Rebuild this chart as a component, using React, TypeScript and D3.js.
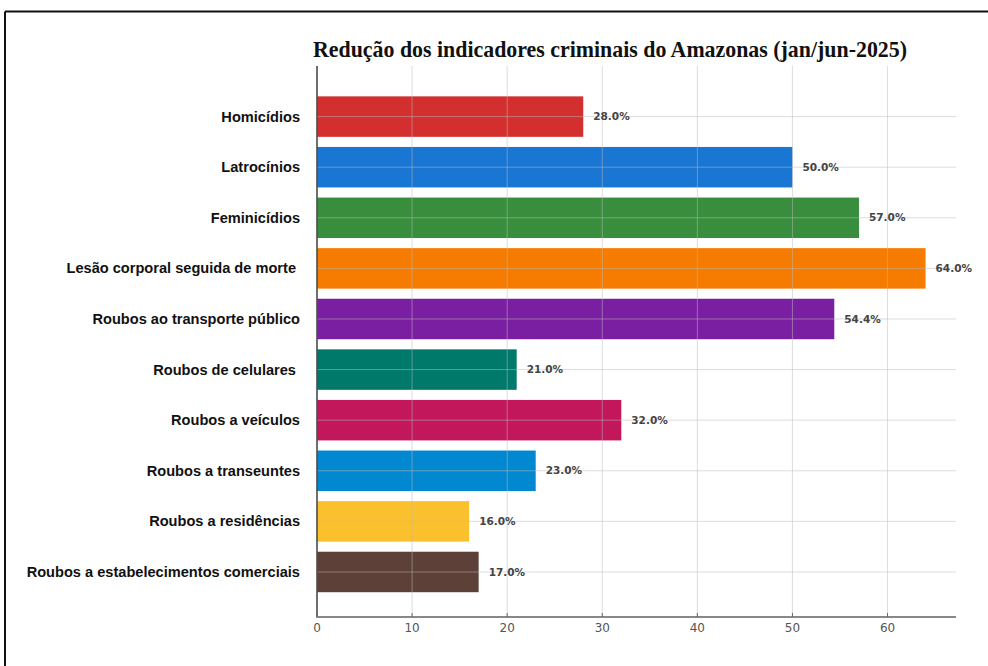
import React from "react";
import * as d3 from "d3";

const categories = [
  "Homicídios",
  "Latrocínios",
  "Feminicídios",
  "Lesão corporal seguida de morte ",
  "Roubos ao transporte público",
  "Roubos de celulares ",
  "Roubos a veículos",
  "Roubos a transeuntes",
  "Roubos a residências",
  "Roubos a estabelecimentos comerciais",
];
const values = [28.0, 50.0, 57.0, 64.0, 54.4, 21.0, 32.0, 23.0, 16.0, 17.0];
const colors = [
  "#d32f2f", "#1976d2", "#388e3c", "#f57c00", "#7b1fa2",
  "#00796b", "#c2185b", "#0288d1", "#fbc02d", "#5d4037",
];
const xTicks = [0, 10, 20, 30, 40, 50, 60];
const title = "Redução dos indicadores criminais do Amazonas (jan/jun-2025)";

const W = 988;
const H = 666;

export default function App() {
  const x = d3.scaleLinear().domain([0, 67.2]).range([317, 956]);
  const y = d3.scaleLinear().domain([-1.0, 9.89]).range([66, 617]);
  const step = y(1) - y(0);
  const barH = step * 0.8;
  const idx = categories.map((_, i) => i);

  return (
    <svg
      width={W}
      height={H}
      style={{ position: "absolute", left: 0, top: 0, background: "#fff" }}
    >
      {/* frame */}
      <line x1={5} y1={11.5} x2={W} y2={11.5} stroke="#111" strokeWidth={2} />
      <line x1={5} y1={11.5} x2={5} y2={H} stroke="#111" strokeWidth={2} />

      <text
        x={313}
        y={57}
        textLength={594}
        lengthAdjust="spacingAndGlyphs"
        fontFamily="'Liberation Serif', serif"
        fontWeight="bold"
        fontSize={23}
        fill="#111"
      >
        {title}
      </text>

      {/* bars */}
      {idx.map((i) => (
        <rect
          key={"b" + i}
          x={x(0)}
          y={y(i) - barH / 2}
          width={x(values[i]) - x(0)}
          height={barH}
          fill={colors[i]}
        />
      ))}

      {/* grid on top */}
      {xTicks.map((t) => (
        <line
          key={"gx" + t}
          x1={x(t)}
          x2={x(t)}
          y1={y(-1.0)}
          y2={y(9.89)}
          stroke="#bbb"
          strokeOpacity={0.5}
          strokeWidth={1}
        />
      ))}
      {idx.map((i) => (
        <line
          key={"gy" + i}
          x1={x(0)}
          x2={x(67.2)}
          y1={y(i)}
          y2={y(i)}
          stroke="#bbb"
          strokeOpacity={0.5}
          strokeWidth={1}
        />
      ))}

      {/* value labels */}
      {idx.map((i) => (
        <text
          key={"v" + i}
          x={x(values[i]) + 10}
          y={y(i)}
          dy="0.35em"
          fontFamily="'DejaVu Sans', sans-serif"
          fontWeight="bold"
          fontSize={10.5}
          fill="#444"
        >
          {values[i].toFixed(1) + "%"}
        </text>
      ))}

      {/* category labels */}
      {idx.map((i) => (
        <text
          key={"c" + i}
          x={categories[i].endsWith(" ") ? 296 : 300}
          y={y(i)}
          dy="0.35em"
          textAnchor="end"
          fontFamily="'Liberation Sans', Arial, sans-serif"
          fontWeight="bold"
          fontSize={14.6}
          fill="#111"
        >
          {categories[i].trim()}
        </text>
      ))}

      {/* axes */}
      <line x1={x(0)} x2={x(0)} y1={y(-1.0)} y2={y(9.89)} stroke="#444" strokeWidth={1.5} />
      <line x1={x(0) - 1} x2={x(67.2)} y1={y(9.89)} y2={y(9.89)} stroke="#888" strokeWidth={2} />
      {xTicks.map((t) => (
        <g key={"t" + t}>
          <line x1={x(t)} x2={x(t)} y1={y(9.89)} y2={y(9.89) - 4} stroke="#666" strokeWidth={1} />
          <text
            x={x(t)}
            y={y(9.89) + 15}
            textAnchor="middle"
            fontFamily="'DejaVu Sans', sans-serif"
            fontSize={12}
            fill="#555"
          >
            {t}
          </text>
        </g>
      ))}
    </svg>
  );
}
